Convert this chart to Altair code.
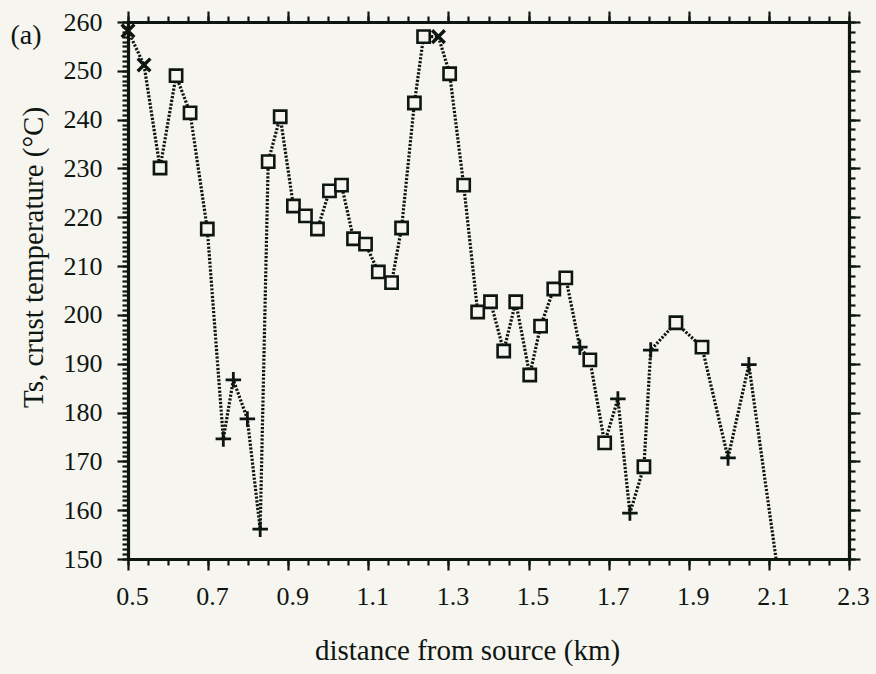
import altair as alt
import pandas as pd

# ---- data ----
distance_km = [0.500, 0.540, 0.580, 0.620, 0.655, 0.698, 0.738, 0.763, 0.798, 0.830,
               0.850, 0.880, 0.913, 0.943, 0.973, 1.003, 1.033, 1.063, 1.093, 1.125,
               1.158, 1.183, 1.215, 1.238, 1.275, 1.303, 1.338, 1.373, 1.405, 1.438,
               1.468, 1.503, 1.530, 1.563, 1.593, 1.628, 1.653, 1.690, 1.723, 1.753,
               1.788, 1.805, 1.868, 1.933, 1.998, 2.050, 2.118]
crust_temp_c = [258.2, 251.2, 230.1, 249.0, 241.4, 217.6, 174.6, 186.7, 178.7, 156.1,
                231.4, 240.6, 222.3, 220.3, 217.6, 225.4, 226.6, 215.6, 214.5, 208.8,
                206.6, 217.8, 243.4, 257.0, 257.0, 249.4, 226.6, 200.6, 202.7, 192.6,
                202.7, 187.7, 197.7, 205.3, 207.6, 193.4, 190.8, 173.8, 182.8, 159.4,
                168.9, 192.8, 198.4, 193.4, 170.7, 189.8, 150.0]
marker = (["x"] * 2 + ["sq"] * 4 + ["plus"] * 4 + ["sq"] * 14 + ["x"] + ["sq"] * 10
          + ["plus"] + ["sq"] * 2 + ["plus"] * 2 + ["sq"] + ["plus"] + ["sq"] * 2
          + ["plus"] * 2 + ["none"])

x_major = [0.5, 0.7, 0.9, 1.1, 1.3, 1.5, 1.7, 1.9, 2.1, 2.3]
x_minor = [round(0.5 + 0.05 * i, 2) for i in range(37)]
y_major = list(range(150, 261, 10))
y_minor_left = list(range(150, 261, 1))
y_minor_right = list(range(150, 261, 2))

df = pd.DataFrame({"d": distance_km, "t": crust_temp_c, "m": marker})

ink = "#0e1612"
bg = "#f7f5ef"
serif = "Liberation Serif"

xs = alt.Scale(domain=[0.5, 2.3], nice=False, zero=False)
ys = alt.Scale(domain=[150, 260], nice=False, zero=False)

common = dict(grid=False, tickColor=ink, tickWidth=2.2, domainColor=ink, domainWidth=3.2,
              labelFlush=False, labelOverlap=False)


def ax_major(orient, values, labels, **kw):
    return alt.Axis(orient=orient, values=values, tickSize=11, labels=labels,
                    domain=True, **common, **kw)


def ax_minor(orient, values):
    return alt.Axis(orient=orient, values=values, tickSize=6, labels=False,
                    domain=False, title=None, **common)


base = alt.Chart(df)

line = base.mark_line(color=ink, strokeWidth=3.2, strokeDash=[2.2, 1.6]).encode(
    x=alt.X("d:Q", scale=xs, axis=ax_major(
        "bottom", x_major, True, format=".1f", labelFont=serif, labelFontSize=26,
        labelColor=ink, labelPadding=13, labelOffset=4, title="distance from source (km)",
        titleFont=serif, titleFontSize=29, titleFontWeight="normal", titleColor=ink,
        titlePadding=27, titleX=339)),
    y=alt.Y("t:Q", scale=ys, axis=ax_major(
        "left", y_major, True, format="d", labelFont=serif, labelFontSize=26,
        labelColor=ink, labelPadding=15, title="Ts, crust temperature (°C)",
        titleFont=serif, titleFontSize=29, titleFontWeight="normal", titleColor=ink,
        titlePadding=15, titleY=235)),
)

minor_a = base.mark_point(opacity=0).encode(
    x=alt.X("d:Q", scale=xs, axis=ax_minor("bottom", x_minor)),
    y=alt.Y("t:Q", scale=ys, axis=ax_minor("left", y_minor_left)),
)
major_b = base.mark_point(opacity=0).encode(
    x=alt.X("d:Q", scale=xs, axis=ax_major("top", x_major, False, title=None)),
    y=alt.Y("t:Q", scale=ys, axis=ax_major("right", y_major, False, title=None)),
)
minor_c = base.mark_point(opacity=0).encode(
    x=alt.X("d:Q", scale=xs, axis=ax_minor("top", x_minor)),
    y=alt.Y("t:Q", scale=ys, axis=ax_minor("right", y_minor_right)),
)

squares = base.transform_filter(alt.datum.m == "sq").mark_point(
    shape="square", size=150, filled=True, fill=bg, stroke=ink, strokeWidth=2.6,
    opacity=1).encode(
    x=alt.X("d:Q", scale=xs, axis=None), y=alt.Y("t:Q", scale=ys, axis=None))

pluses = base.transform_filter(alt.datum.m == "plus").mark_point(
    shape="M-1,0H1M0,-1V1", size=240, filled=False, stroke=ink, strokeWidth=2.8,
    opacity=1).encode(
    x=alt.X("d:Q", scale=xs, axis=None), y=alt.Y("t:Q", scale=ys, axis=None))

crosses = base.transform_filter(alt.datum.m == "x").mark_point(
    shape="M-1,-1L1,1M-1,1L1,-1", size=160, filled=False, stroke=ink, strokeWidth=3.4,
    opacity=1).encode(
    x=alt.X("d:Q", scale=xs, axis=None), y=alt.Y("t:Q", scale=ys, axis=None))

panel_label = alt.Chart(pd.DataFrame({"lab": ["(a)"]})).mark_text(
    font=serif, fontSize=28, color=ink, align="center", baseline="middle").encode(
    x=alt.value(-102), y=alt.value(14), text="lab:N")

chart = alt.layer(line, minor_a, major_b, minor_c, squares, pluses, crosses,
                  panel_label).resolve_axis(
    x="independent", y="independent"
).properties(
    width=721, height=537,
    autosize=alt.AutoSizeParams(type="none"),
    padding={"left": 128, "top": 22, "right": 27, "bottom": 115},
    background=bg,
).configure_view(stroke="transparent")

chart.save("out.html", embed_options={"renderer": "svg", "actions": False})
